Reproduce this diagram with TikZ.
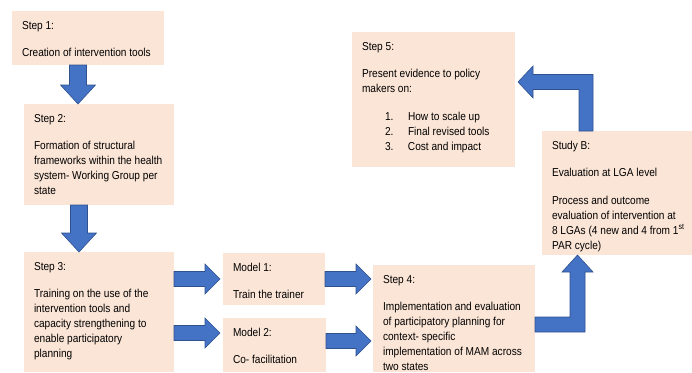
\documentclass[tikz,border=0pt]{standalone}
\usepackage{fontspec}
\setmainfont{Liberation Sans}[FakeStretch=0.88]
\definecolor{boxpeach}{RGB}{251, 229, 214}
\definecolor{arrowblue}{RGB}{68, 114, 196}
\definecolor{arrowedge}{RGB}{47, 82, 143}
\usepackage{tikz}
\usetikzlibrary{calc, positioning}

% text block of a box: width, height, content
\newcommand{\stagetext}[3]{\parbox[c][#2][t]{#1}{\raggedright #3}}
% straight block arrows from a start point to the tip
\newcommand{\blockdown}[2]{%
  \path[blockarrow] let \p1=(#1), \p2=(#2) in
    (\x1-8.5pt,\y1) -- (\x1-8.5pt,\y2+19pt) -- (\x1-17.5pt,\y2+19pt) -- (\x1,\y2)
    -- (\x1+17.5pt,\y2+19pt) -- (\x1+8.5pt,\y2+19pt) -- (\x1+8.5pt,\y1) -- cycle;}
\newcommand{\blockright}[2]{%
  \path[blockarrow] let \p1=(#1), \p2=(#2) in
    (\x1,\y1+7.5pt) -- (\x2-15pt,\y1+7.5pt) -- (\x2-15pt,\y1+15pt) -- (\x2,\y1)
    -- (\x2-15pt,\y1-15pt) -- (\x2-15pt,\y1-7.5pt) -- (\x1,\y1-7.5pt) -- cycle;}

\begin{document}
\begin{tikzpicture}[x=1pt, y=-1pt,
    stagebox/.style={fill=boxpeach, anchor=north west, inner sep=10pt, outer sep=0pt,
      font=\fontsize{11.5}{15}\selectfont},
    blockarrow/.style={fill=arrowblue, draw=arrowedge, line width=0.6pt, line join=miter}]
  \useasboundingbox (0,0) rectangle (692,372);

  % Left column
  \node[stagebox] (s1) at (12,11) {\stagetext{132pt}{34pt}{%
    Step 1:\\[12pt]
    Creation of intervention tools}};
  \node[stagebox] (s2) at (24,104) {\stagetext{130pt}{81pt}{%
    Step 2:\\[12pt]
    Formation of structural\\
    frameworks within the health\\
    system- Working Group per\\
    state}};
  \node[stagebox] (s3) at (24,252) {\stagetext{130pt}{100pt}{%
    Step 3:\\[12pt]
    Training on the use of the\\
    intervention tools and\\
    capacity strengthening to\\
    enable participatory\\
    planning}};

  % Models
  \node[stagebox] (m1) at (223,253) {\stagetext{82pt}{32pt}{%
    Model 1:\\[12pt]
    Train the trainer}};
  \node[stagebox] (m2) at (223,318) {\stagetext{83pt}{34pt}{%
    Model 2:\\[12pt]
    Co- facilitation}};

  % Right part
  \node[stagebox] (s4) at (373,265) {\stagetext{142pt}{87pt}{%
    Step 4:\\[12pt]
    Implementation and evaluation\\
    of participatory planning for\\
    context- specific\\
    implementation of MAM across\\
    two states}};
  \node[stagebox] (sb) at (542,131) {\stagetext{130pt}{104pt}{%
    Study B:\\[12pt]
    Evaluation at LGA level\\[13pt]
    Process and outcome\\
    evaluation of intervention at\\
    \mbox{8 LGAs (4 new and 4 from 1\textsuperscript{st}}\\
    PAR cycle)}};
  \node[stagebox] (s5) at (352,32) {\stagetext{143pt}{115pt}{%
    Step 5:\\[12pt]
    Present evidence to policy\\
    makers on:\\[13pt]
    \hspace*{23pt}\makebox[23pt][l]{1.}How to scale up\\
    \hspace*{23pt}\makebox[23pt][l]{2.}Final revised tools\\
    \hspace*{23pt}\makebox[23pt][l]{3.}Cost and impact}};

  % Arrows
  \coordinate (d1) at ($(s1.south west)+(66,0)$);
  \coordinate (d2) at ($(s2.south west)+(55,0)$);
  \blockdown{d1}{s2.north -| d1}
  \blockdown{d2}{s3.north -| d2}

  \coordinate (r2) at ($(s3.east |- m2.north)+(0,15)$);
  \coordinate (r4) at ($(m2.north east)+(0,23)$);
  \blockright{s3.east |- m1.west}{$(m1.west)+(-3,0)$}
  \blockright{r2}{$(m2.north west)+(-3,15)$}
  \blockright{m1.east}{$(s4.west |- m1.east)+(-2,0)$}
  \blockright{r4}{$(s4.west |- r4)+(-2,0)$}

  \coordinate (u1) at ($(s4.south east)+(0,-47.5)$);
  \coordinate (u2) at ($(sb.south west)+(35.5,0)$);
  \path[blockarrow] let \p1=(u1), \p2=(u2) in
    (\x1,\y1+7.5pt) -- (\x2-7.5pt,\y1+7.5pt) -- (\x2-7.5pt,\y2-17pt) -- (\x2-15.5pt,\y2-17pt)
    -- (\x2,\y2) -- (\x2+15.5pt,\y2-17pt) -- (\x2+7.5pt,\y2-17pt) -- (\x2+7.5pt,\y1-7.5pt)
    -- (\x1,\y1-7.5pt) -- cycle;

  \coordinate (l1) at ($(sb.north west)+(44,0)$);
  \coordinate (l2) at ($(s5.north east)+(3,50)$);
  \path[blockarrow] let \p1=(l1), \p2=(l2) in
    (\x1-7pt,\y1) -- (\x1-7pt,\y2-7.5pt) -- (\x2+15pt,\y2-7.5pt) -- (\x2+15pt,\y2-16pt)
    -- (\x2,\y2) -- (\x2+15pt,\y2+16pt) -- (\x2+15pt,\y2+7.5pt) -- (\x1+7pt,\y2+7.5pt)
    -- (\x1+7pt,\y1) -- cycle;
\end{tikzpicture}
\end{document}
